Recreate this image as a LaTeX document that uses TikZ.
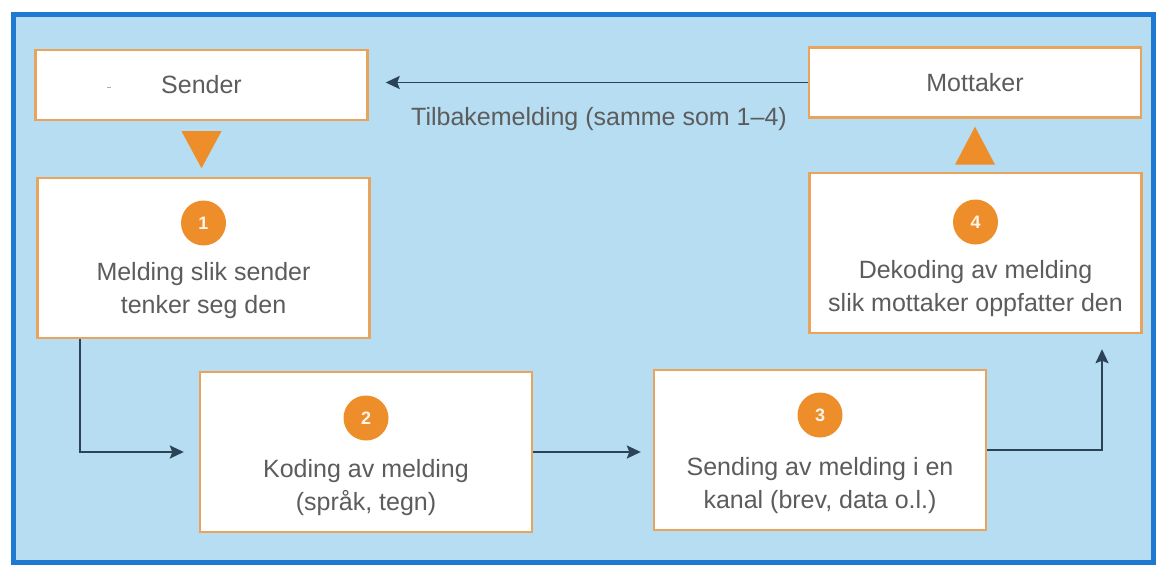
\documentclass[tikz,border=0pt]{standalone}
\usepackage{fontspec}
\setmainfont{Liberation Sans}
\usetikzlibrary{arrows.meta,calc}
\definecolor{frameblue}{HTML}{1F78D1}
\definecolor{skyfill}{HTML}{B6DDF1}
\definecolor{boxedge}{HTML}{E8A45C}
\definecolor{dotorange}{HTML}{EE8E2A}
\definecolor{inkgray}{HTML}{5C5C5C}
\definecolor{linedark}{HTML}{2C4256}
\begin{document}
\begin{tikzpicture}[x=1pt,y=-1pt,
  stepbox/.style={draw=boxedge, line width=2.4pt, fill=white,
    minimum width=332pt, minimum height=160pt, inner sep=0pt},
  endbox/.style={stepbox, minimum height=70pt, text=inkgray,
    font=\fontsize{25}{30}\selectfont},
  numdot/.style={circle, fill=dotorange, minimum size=45pt, inner sep=0pt,
    text=white!92!orange, font=\fontsize{18}{18}\selectfont\bfseries},
  boxtext/.style={text=inkgray, font=\fontsize{25}{33}\selectfont, align=center},
  flow/.style={draw=linedark, line width=1.9pt,
    -{Stealth[length=14pt,width=13pt,inset=2.5pt]}},
  pointer/.style={fill=dotorange, draw=none},
]
\useasboundingbox (0,0) rectangle (1158,565);
% page and framed panel
\fill[white] (0,0) rectangle (1158,565);
\fill[skyfill] (13,14) rectangle (1153,562);
\draw[frameblue, line width=5pt] (13,14) rectangle (1153,562);

% sender and receiver
\node[endbox] (snd) at (201.5,85) {Sender};
\node[endbox] (mot) at (975,82.5) {Mottaker};
\draw[inkgray!50, line width=0.9pt] (107,87) -- (111,87);

% the four steps
\node[stepbox] (b1) at (203.5,258) {};
\node[numdot] (n1) at (203.5,223) {1};
\node[boxtext] (t1) at (203.5,291) {Melding slik sender\\tenker seg den};

\node[stepbox] (b2) at (366,452) {};
\node[numdot] (n2) at (366,418) {2};
\node[boxtext] (t2) at (366,488) {Koding av melding\\(språk, tegn)};

\node[stepbox] (b3) at (820,450) {};
\node[numdot] (n3) at (820,415) {3};
\node[boxtext] (t3) at (820,486) {Sending av melding i en\\kanal (brev, data o.l.)};

\node[stepbox] (b4) at (975.5,253) {};
\node[numdot] (n4) at (975.5,222) {4};
\node[boxtext] (t4) at (975.5,289) {Dekoding av melding\\slik mottaker oppfatter den};

% orange pointers between the end boxes and the steps
\fill[pointer] ($(snd.south)+(-20,10)$) -- ($(snd.south)+(20,10)$) -- ($(snd.south)+(0,47)$) -- cycle;
\fill[pointer] ($(mot.south)+(-20,46)$) -- ($(mot.south)+(20,46)$) -- ($(mot.south)+(0,8)$) -- cycle;

% flow of the message
\coordinate (c1) at ([xshift=-123.5pt]b1.south);
\draw[flow, shorten >=15pt] (c1) |- (b2.west);
\draw[flow, shorten >=12pt] (b2.east) -- (b2.east -| b3.west);
\coordinate (c4) at ([xshift=126.5pt]b4.south);
\draw[flow, shorten >=15pt] (b3.east) -| (c4);

% feedback
\draw[flow, shorten >=17pt] (mot.west) -- (mot.west -| snd.east);
\node[text=inkgray, font=\fontsize{25}{28}\selectfont] (fb) at (599,119)
  {Tilbakemelding (samme som 1–4)};
\end{tikzpicture}
\end{document}
